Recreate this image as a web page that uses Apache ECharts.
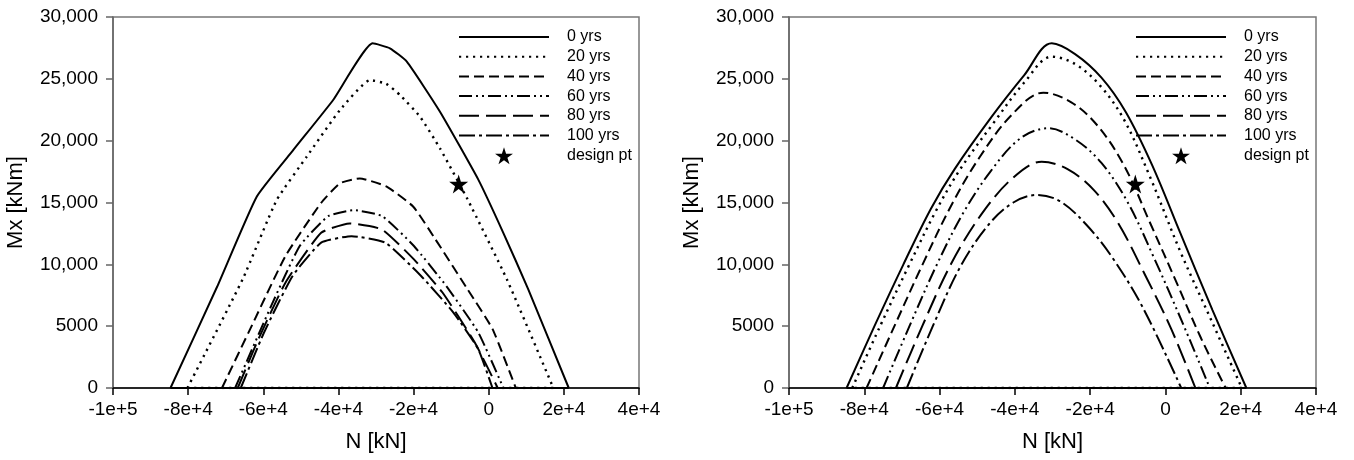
<!DOCTYPE html>
<html>
<head>
<meta charset="utf-8">
<script src="https://cdn.jsdelivr.net/npm/echarts@6/dist/echarts.min.js"></script>
<style>
html, body { margin: 0; padding: 0; background: #fff; }
#main { width: 1354px; height: 460px; }
</style>
</head>
<body>
<div id="main"></div>
<script>
// N [kN], Mx [kNm] points of each interaction curve (left panel)
var leftCurve0 = [[-84700,0],[-72200,8250],[-61750,15470],[-52000,19250],[-41400,23290],[-30900,27870],[-26300,27470],[-21800,26390],[-12970,22340],[-2770,16850],[3880,12550],[10530,7980],[21300,0]];
var leftCurve20 = [[-80200,0],[-65500,8790],[-56430,15200],[-48450,18700],[-39580,22480],[-31600,24900],[-27300,24600],[-23600,23690],[-18290,21940],[-12970,19380],[-5600,15240],[4830,8790],[17200,0]];
var leftCurve40 = [[-71000,0],[-62650,5300],[-54100,10670],[-44600,14970],[-39600,16550],[-34300,16950],[-27150,16280],[-20070,14660],[-14180,12020],[-5630,7980],[1030,4760],[7200,0]];
var leftCurve60 = [[-67500,0],[-57900,6640],[-50300,11480],[-42700,13900],[-36000,14380],[-28400,13900],[-19900,11480],[-11300,8250],[-2770,4490],[3900,0]];
var leftCurve80 = [[-66800,0],[-61700,3680],[-54100,8520],[-44600,12550],[-37000,13310],[-28400,12820],[-19900,10400],[-12300,7720],[-3700,3680],[2400,0]];
var leftCurve100 = [[-66000,0],[-59800,4490],[-52200,9060],[-44600,11750],[-36500,12280],[-27500,11750],[-18000,9060],[-9400,6100],[-2800,3150],[1000,0]];

// right panel
var rightCurve0 = [[-84700,0],[-77300,5000],[-69600,10000],[-62300,14500],[-56000,17700],[-46000,22000],[-37500,25300],[-30200,27870],[-24000,27000],[-17000,25100],[-10500,22300],[-3500,18000],[4000,12500],[12500,6300],[21500,0]];
var rightCurve20 = [[-83200,0],[-75800,5000],[-68000,10000],[-61000,14300],[-54500,17700],[-45500,21500],[-37500,24700],[-30200,26790],[-24000,26200],[-17500,24500],[-11000,21700],[-4000,17000],[4000,11000],[12000,5600],[20300,0]];
var rightCurve40 = [[-79400,0],[-72000,5000],[-64500,10000],[-57000,14700],[-49500,18600],[-40800,22100],[-32450,23880],[-25000,23100],[-18000,21200],[-11000,18000],[-4000,13300],[3000,8500],[9500,4000],[16000,0]];
var rightCurve60 = [[-75000,0],[-68000,5000],[-61000,9800],[-54000,14000],[-46500,17500],[-38500,20200],[-31100,21000],[-24000,20100],[-17000,18200],[-10000,15000],[-3000,10500],[4500,5300],[11800,0]];
var rightCurve80 = [[-71600,0],[-64600,5000],[-57000,10000],[-49000,14000],[-40500,17000],[-32870,18300],[-26000,17700],[-19000,16000],[-12500,13300],[-5500,9200],[1500,4800],[7950,0]];
var rightCurve100 = [[-68700,0],[-61800,5000],[-54500,9800],[-47000,13200],[-40400,15000],[-34200,15610],[-28000,15100],[-21000,13200],[-14000,10500],[-6000,6500],[4200,0]];

var designPt = [[-8000,16500]];
var legendNames = ['0 yrs','20 yrs','40 yrs','60 yrs','80 yrs','100 yrs','design pt'];

var FONT = "'Liberation Sans', Arial, sans-serif";
var STAR = 'path://M50,0L61.2,34.5L97.6,34.5L68.2,55.9L79.4,90.5L50,69.1L20.6,90.5L31.8,55.9L2.4,34.5L38.8,34.5Z';

// dash pattern for each age
var dashes = [
    {type: 'solid', width: 2},
    {type: [2.2, 4.8], width: 2.4},
    {type: [10, 5], width: 2},
    {type: [13, 4, 2, 4, 2, 4], width: 2},
    {type: [20, 7], width: 2},
    {type: [16, 4, 3, 4], width: 2}
];

function makeSeries(curves, idx, smooth) {
    var list = [];
    for (var i = 0; i < curves.length; i++) {
        var pts = curves[i];
        var style = {color: '#000', width: dashes[i].width, type: dashes[i].type};
        list.push({
            name: legendNames[i],
            type: 'line',
            xAxisIndex: idx,
            yAxisIndex: idx,
            data: pts,
            symbol: 'none',
            showSymbol: false,
            smooth: smooth,
            silent: true,
            lineStyle: style,
            itemStyle: {color: '#000'},
            z: 3
        });
        // closing segment along Mx = 0
        list.push({
            type: 'line',
            xAxisIndex: idx,
            yAxisIndex: idx,
            data: [pts[pts.length - 1], pts[0]],
            symbol: 'none',
            showSymbol: false,
            silent: true,
            lineStyle: style,
            z: 3
        });
    }
    list.push({
        name: 'design pt',
        type: 'scatter',
        xAxisIndex: idx,
        yAxisIndex: idx,
        data: designPt,
        symbol: STAR,
        symbolSize: 19,
        itemStyle: {color: '#000', opacity: 1},
        z: 5
    });
    return list;
}

function fmtY(v) {
    if (v < 10000) return String(v);
    return String(v).replace(/\B(?=(\d{3})+(?!\d))/g, ',');
}

function fmtX(v) {
    if (v === 0) return '0';
    return v.toExponential();
}

function xAxisCfg(idx) {
    return {
        type: 'value',
        gridIndex: idx,
        min: -100000,
        max: 40000,
        interval: 20000,
        name: 'N [kN]',
        nameLocation: 'middle',
        nameGap: 43,
        nameTextStyle: {fontFamily: FONT, fontSize: 22, color: '#000'},
        axisLine: {onZero: false, lineStyle: {color: '#000', width: 1.5}},
        axisTick: {inside: false, length: 7, lineStyle: {color: '#000', width: 1.5}},
        axisLabel: {formatter: fmtX, fontFamily: FONT, fontSize: 19, color: '#000', margin: 12},
        splitLine: {show: false}
    };
}

function yAxisCfg(idx) {
    return {
        type: 'value',
        gridIndex: idx,
        min: 0,
        max: 30000,
        interval: 5000,
        name: 'Mx [kNm]',
        nameLocation: 'middle',
        nameGap: 86,
        nameRotate: 90,
        nameTextStyle: {fontFamily: FONT, fontSize: 22, color: '#000'},
        axisLine: {show: true, onZero: false, lineStyle: {color: '#666', width: 1.5}},
        axisTick: {show: true, inside: false, length: 7, lineStyle: {color: '#666', width: 1.5}},
        axisLabel: {formatter: fmtY, fontFamily: FONT, fontSize: 19, color: '#000', margin: 15},
        splitLine: {show: false}
    };
}

function legendCfg(left) {
    var items = [];
    for (var i = 0; i < legendNames.length; i++) {
        if (i < 6) {
            items.push({name: legendNames[i], itemStyle: {opacity: 0}});
        } else {
            items.push({name: legendNames[i]});
        }
    }
    return {
        data: items,
        orient: 'vertical',
        left: left,
        top: 29,
        padding: 0,
        itemWidth: 90,
        itemHeight: 17,
        itemGap: 3.7,
        selectedMode: false,
        textStyle: {fontFamily: FONT, fontSize: 16, color: '#000', padding: [0, 0, 0, 13]}
    };
}

var chart = echarts.init(document.getElementById('main'));
var option = {
    animation: false,
    backgroundColor: '#fff',
    grid: [
        {left: 113, top: 17, width: 526, height: 371, show: true, borderColor: '#777', borderWidth: 1.5, backgroundColor: 'transparent'},
        {left: 789, top: 17, width: 527, height: 371, show: true, borderColor: '#777', borderWidth: 1.5, backgroundColor: 'transparent'}
    ],
    legend: [legendCfg(458), legendCfg(1135)],
    xAxis: [xAxisCfg(0), xAxisCfg(1)],
    yAxis: [yAxisCfg(0), yAxisCfg(1)],
    series: makeSeries([leftCurve0, leftCurve20, leftCurve40, leftCurve60, leftCurve80, leftCurve100], 0, 0.15)
        .concat(makeSeries([rightCurve0, rightCurve20, rightCurve40, rightCurve60, rightCurve80, rightCurve100], 1, 0.35))
};
chart.setOption(option);
</script>
</body>
</html>
